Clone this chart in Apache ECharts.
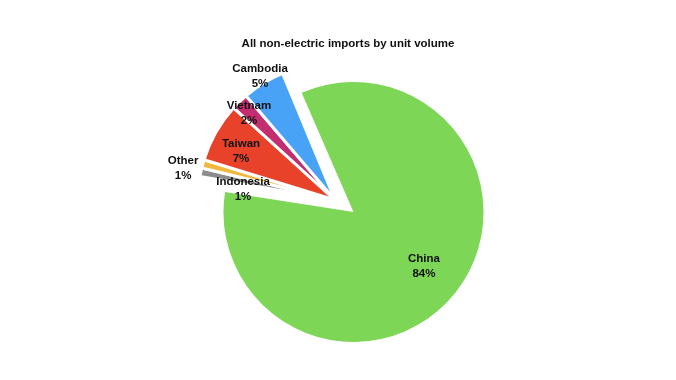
<!DOCTYPE html>
<html>
<head>
<meta charset="utf-8">
<script src="https://cdn.jsdelivr.net/npm/echarts@6/dist/echarts.min.js"></script>
<style>html,body{margin:0;padding:0;background:#fff}#c{width:676px;height:380px}</style>
</head>
<body>
<div id="c"></div>
<script>
var categories = ['China', 'Indonesia', 'Other', 'Taiwan', 'Vietnam', 'Cambodia'];
var values = [84, 1, 1, 7, 2, 5];
var colors = ['#7ED656', '#8C8C8C', '#F2B83E', '#E8432A', '#C22E70', '#48A2F6'];
// label placement: distance as a fraction of radius, and angular shift (degrees)
var labelRadius = [0.678, 0.677, 1.135, 0.777, 0.896, 1.06];
var labelAngleShift = [0.8, 4.3, 3.05, 1.7, 0.4, -0.4];

var FONT = 'Liberation Sans, Arial, sans-serif';
var total = values.reduce(function (a, b) { return a + b; }, 0);
var restTotal = total - values[0];

// main slice (China) and the exploded group of small slices
var mainPie = { center: [353.5, 212], r: 130, start: 113.5 };
var restPie = { center: [335, 200], r: 137, start: 112.5 };

function midAngles(vals, start) {
  var out = [], cum = 0, t = vals.reduce(function (a, b) { return a + b; }, 0);
  vals.forEach(function (v) { out.push(start - (cum + v / 2) / t * 360); cum += v; });
  return out;
}
var mainVals = [values[0], restTotal];
var restVals = [values[0]].concat(values.slice(1));
var mainMids = midAngles(mainVals, mainPie.start);
var restMids = midAngles(restVals, restPie.start);

function makeLayout(mids, R, isMain) {
  return function (p) {
    var i = p.dataIndex;
    var ci = isMain ? 0 : i; // category index
    var m = mids[i] * Math.PI / 180;
    var d0 = R / 2 + 3;
    var a = (mids[i] + labelAngleShift[ci]) * Math.PI / 180;
    var k = labelRadius[ci] * R;
    return {
      dx: k * Math.cos(a) - d0 * Math.cos(m),
      dy: -k * Math.sin(a) + d0 * Math.sin(m) + 1
    };
  };
}

var hidden = { itemStyle: { color: 'rgba(0,0,0,0)', borderWidth: 0 }, label: { show: false } };
var labelStyle = {
  show: true, position: 'inside',
  formatter: '{b}\n{c}%',
  fontFamily: FONT, fontSize: 11.5, fontWeight: 'bold', color: '#111', lineHeight: 15
};

var chart = echarts.init(document.getElementById('c'));
chart.setOption({
  animation: false,
  title: {
    text: 'All non-electric imports by unit volume',
    left: 343, top: 33, textAlign: 'center',
    textStyle: { fontFamily: FONT, fontSize: 11.5, fontWeight: 'bold', color: '#111' }
  },
  series: [{
    type: 'pie',
    center: mainPie.center,
    radius: [0, mainPie.r],
    startAngle: mainPie.start,
    clockwise: true,
    avoidLabelOverlap: false,
    silent: true,
    label: labelStyle,
    labelLine: { show: false },
    labelLayout: makeLayout(mainMids, mainPie.r, true),
    data: [
      { name: categories[0], value: values[0], itemStyle: { color: colors[0] } },
      Object.assign({ name: '', value: restTotal }, hidden)
    ]
  }, {
    type: 'pie',
    center: restPie.center,
    radius: [0, restPie.r],
    startAngle: restPie.start,
    clockwise: true,
    avoidLabelOverlap: false,
    silent: true,
    itemStyle: { borderColor: '#fff', borderWidth: 3 },
    label: labelStyle,
    labelLine: { show: false },
    labelLayout: makeLayout(restMids, restPie.r, false),
    data: [Object.assign({ name: '', value: values[0] }, hidden)].concat(
      categories.slice(1).map(function (n, j) {
        return { name: n, value: values[j + 1], itemStyle: { color: colors[j + 1] } };
      })
    )
  }]
});
</script>
</body>
</html>
